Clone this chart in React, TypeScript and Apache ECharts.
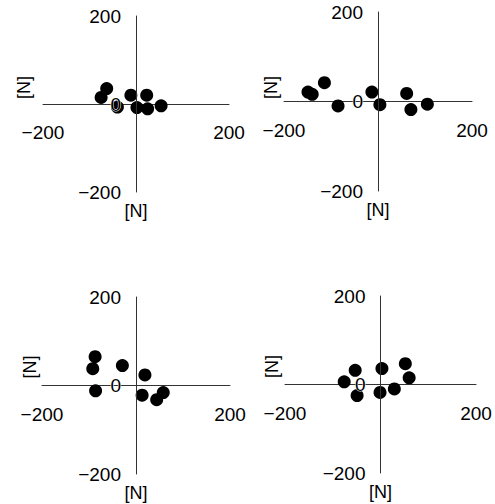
import React, { useEffect, useRef } from "react";
import * as echarts from "echarts";

// Four scatter panels: [x, y] in N
const panelA: number[][] = [
  [-75, 15], [-63, 35], [-40, -7], [-11, 20], [23, 20], [2, -8], [25, -11], [54, -4],
];
const panelB: number[][] = [
  [-149, 21], [-140, 16], [-114, 42], [-85, -10], [-13, 21], [4, -7], [61, 18], [70, -18], [105, -6],
];
const panelC: number[][] = [
  [-87, 65], [-92, 38], [-29, 45], [19, 24], [-86, -12], [13, -22], [44, -32], [58, -16],
];
const panelD: number[][] = [
  [-76, 6], [-53, 32], [-49, -25], [3, 36], [-1, -18], [29, -10], [52, 47], [60, 15],
];
const panels = [panelA, panelB, panelC, panelD];

const axisMin = -200;
const axisMax = 200;
const xInterval = 400;
const yInterval = 200;
const unitName = "[N]";

const grids = [
  { left: 43, top: 16, width: 186, height: 176 },
  { left: 284, top: 12, width: 188, height: 179 },
  { left: 42, top: 297, width: 188, height: 177 },
  { left: 285, top: 296, width: 191, height: 177 },
];
const sideNamePos = [
  [24, 87.5],
  [270.5, 87.5],
  [30, 367],
  [272, 366.5],
];

const FONT = "'Liberation Sans', Arial, sans-serif";
const FS = 19;
const NAME_FS = 18;
const fmt = (v: number) => (v < 0 ? "\u2212" + Math.abs(v) : String(v));

export default function App() {
  const ref = useRef<HTMLDivElement>(null);
  useEffect(() => {
    if (!ref.current) return;
    const chart = echarts.init(ref.current, undefined, { renderer: "svg" });
    const axisLine = { show: true, onZero: false, lineStyle: { color: "#333", width: 1 } };
    chart.setOption({
      animation: false,
      backgroundColor: "#fff",
      grid: grids.map((g) => ({ ...g, containLabel: false, outerBoundsMode: "none" })),
      xAxis: grids.map((g, i) => ({
        type: "value",
        gridIndex: i,
        position: "bottom",
        offset: -g.height / 2,
        min: axisMin,
        max: axisMax,
        interval: xInterval,
        axisLine,
        axisTick: { show: false },
        splitLine: { show: false },
        axisLabel: { margin: 19, fontFamily: FONT, fontSize: FS, color: "#000", formatter: fmt },
      })),
      yAxis: grids.map((g, i) => ({
        type: "value",
        gridIndex: i,
        position: "left",
        offset: -g.width / 2,
        min: axisMin,
        max: axisMax,
        interval: yInterval,
        axisLine,
        axisTick: { show: false },
        splitLine: { show: false },
        z: 3,
        name: unitName,
        nameLocation: "start",
        nameGap: 5,
        nameTextStyle: { fontFamily: FONT, fontSize: NAME_FS, lineHeight: 18, color: "#000" },
        axisLabel: {
          margin: 15,
          fontFamily: FONT,
          fontSize: FS,
          color: "#000",
          formatter: fmt,
          textBorderColor: "#fff",
          textBorderWidth: 1,
        },
      })),
      series: panels.map((d, i) => ({
        type: "scatter",
        xAxisIndex: i,
        yAxisIndex: i,
        data: d,
        symbolSize: 13,
        itemStyle: { color: "#000", opacity: 1 },
      })),
      graphic: sideNamePos.map(([x, y]) => ({
        type: "text",
        x,
        y,
        rotation: Math.PI / 2,
        style: {
          text: unitName,
          align: "center",
          verticalAlign: "middle",
          fontFamily: FONT,
          fontSize: NAME_FS,
          fill: "#000",
        },
      })),
    });
    return () => chart.dispose();
  }, []);
  return (
    <div
      ref={ref}
      style={{ position: "fixed", left: 0, top: 0, width: 495, height: 504, background: "#fff" }}
    />
  );
}
